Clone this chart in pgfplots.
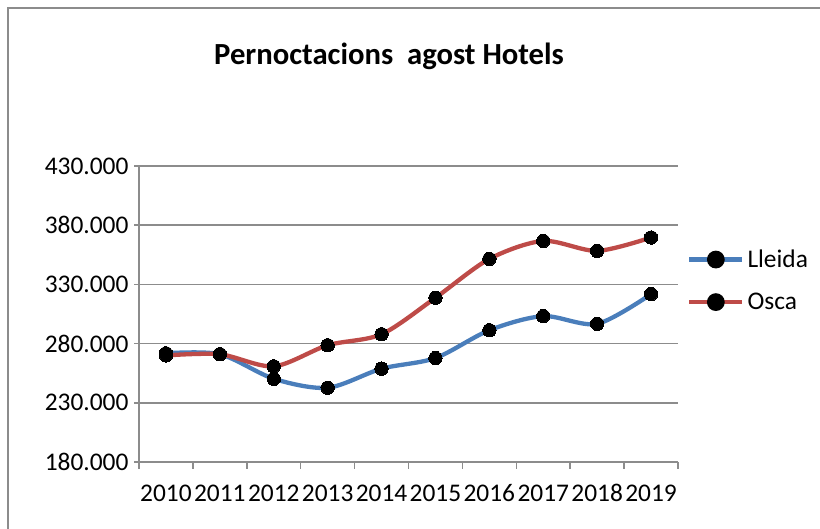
\documentclass[border=0pt]{standalone}
\usepackage{pgfplots}
\pgfplotsset{compat=1.18}
\usepackage{fontspec}
\setmainfont{Carlito}
\definecolor{lblue}{HTML}{4A7EBB}
\definecolor{lred}{HTML}{BE4B48}
\definecolor{gridgray}{HTML}{8C8C8C}
\newcommand{\tickfont}{\fontsize{25.5}{30}\selectfont}
\begin{document}
\begin{tikzpicture}[x=1bp,y=1bp]
\useasboundingbox (0,0) rectangle (820,529);
\draw[gridgray, line width=1.5bp] (8,0) -- (8,521) -- (820,521);
\node[anchor=base, font={\fontsize{30.8}{36}\selectfont\bfseries}] at (389,464) {Pernoctacions\ \ agost Hotels};
\begin{axis}[
  at={(139bp,67bp)}, anchor=south west,
  width=539bp, height=296bp, scale only axis,
  xmin=-0.5, xmax=9.5, ymin=180000, ymax=430000,
  scaled y ticks=false,
  axis lines*=left, axis line style={-, draw=gridgray, line width=1.5bp},
  xtick={0,...,9},
  xticklabels={2010,2011,2012,2013,2014,2015,2016,2017,2018,2019},
  minor xtick={-0.5,0.5,...,9.5},
  major x tick style={draw=none},
  minor x tick style={draw=gridgray, line width=1.5bp},
  minor tick length=7bp,
  ytick={180000,230000,280000,330000,380000,430000},
  yticklabels={180.000,230.000,280.000,330.000,380.000,430.000},
  major y tick style={draw=gridgray, line width=1.5bp},
  major tick length=5bp,
  tick align=outside,
  ymajorgrids,
  grid style={draw=gridgray, line width=1.5bp},
  ticklabel style={font=\tickfont},
  xticklabel style={yshift=-14bp},
  yticklabel style={xshift=-2bp},
  legend style={at={(axis description cs:1.0167,0.613)}, anchor=west, draw=none, fill=none,
    font=\tickfont, inner sep=0pt, row sep=18bp,
    nodes={inner sep=3bp}},
  legend cell align=left,
  legend image code/.code={\draw[#1, mark=none] (0bp,0bp) -- (53bp,0bp); \fill[black] (26.5bp,0bp) circle (6.7bp);},
]
\addplot[color=lblue, line width=4.3bp, smooth, tension=0.5, mark=*, mark size=6.7bp, mark options={draw=black, fill=black, line width=0pt}] coordinates {
(0,271800) (1,271000) (2,250300) (3,242700) (4,258800) (5,267800) (6,291300) (7,303200) (8,296700) (9,321800)};
\addlegendentry{Lleida}
\addplot[color=lred, line width=4.3bp, smooth, tension=0.5, mark=*, mark size=6.7bp, mark options={draw=black, fill=black, line width=0pt}] coordinates {
(0,270000) (1,271000) (2,260800) (3,278600) (4,287900) (5,318700) (6,351500) (7,366700) (8,358300) (9,369600)};
\addlegendentry{Osca}
\end{axis}
\end{tikzpicture}
\end{document}
